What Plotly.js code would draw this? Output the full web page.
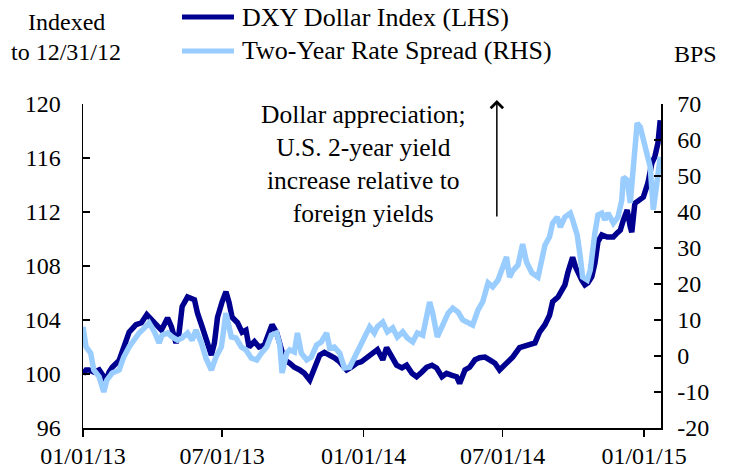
<!DOCTYPE html>
<html>
<head>
<meta charset="utf-8">
<script src="https://cdn.plot.ly/plotly-3.0.1.min.js"></script>
<style>
  html, body { margin: 0; padding: 0; background: #fff; }
  #chart { width: 734px; height: 473px; }
</style>
</head>
<body>
<div id="chart"></div>
<script>
// ---------- DATA ----------
const dxyName = "DXY Dollar Index (LHS)";
const spreadName = "Two-Year Rate Spread (RHS)";

const dxyDates = [
  "2013-01-01","2013-01-05","2013-01-09","2013-01-15","2013-01-22","2013-01-27","2013-01-31","2013-02-04","2013-02-08","2013-02-17",
  "2013-02-26","2013-03-02","2013-03-11","2013-03-18","2013-03-25","2013-03-31","2013-04-06","2013-04-13","2013-04-21","2013-04-26",
  "2013-05-02","2013-05-06","2013-05-10","2013-05-17","2013-05-26","2013-05-30","2013-06-05","2013-06-12","2013-06-17","2013-06-21",
  "2013-06-25","2013-07-01","2013-07-06","2013-07-10","2013-07-14","2013-07-21","2013-07-27","2013-08-01","2013-08-05","2013-08-12",
  "2013-08-18","2013-08-25","2013-08-31","2013-09-04","2013-09-10","2013-09-16","2013-09-20","2013-09-27","2013-10-03","2013-10-10",
  "2013-10-16","2013-10-23","2013-10-29","2013-11-05","2013-11-11","2013-11-18","2013-11-24","2013-12-01","2013-12-10","2013-12-16",
  "2013-12-23","2013-12-29","2014-01-05","2014-01-13","2014-01-19","2014-01-26","2014-01-31","2014-02-07","2014-02-13","2014-02-20",
  "2014-02-26","2014-03-05","2014-03-11","2014-03-18","2014-03-24","2014-03-31","2014-04-06","2014-04-13","2014-04-19","2014-04-26",
  "2014-05-02","2014-05-06","2014-05-13","2014-05-19","2014-05-26","2014-06-01","2014-06-08","2014-06-14","2014-06-21","2014-06-27",
  "2014-07-04","2014-07-14","2014-07-23","2014-08-01","2014-08-12","2014-08-18","2014-08-25","2014-08-31","2014-09-04","2014-09-11",
  "2014-09-16","2014-09-20","2014-09-24","2014-09-30","2014-10-04","2014-10-07","2014-10-12","2014-10-16","2014-10-20","2014-10-25",
  "2014-10-29","2014-11-02","2014-11-07","2014-11-14","2014-11-22","2014-11-27","2014-12-01","2014-12-05","2014-12-10","2014-12-14",
  "2014-12-16","2014-12-20","2014-12-27","2014-12-31","2015-01-06","2015-01-11","2015-01-15","2015-01-19","2015-01-22"
];
const dxyValues = [
  100.0,100.3,100.3,100.15,100.3,99.85,99.55,100.15,100.5,101.0,
  102.3,103.1,103.65,103.8,104.4,104.0,103.65,103.25,104.15,103.5,
  102.3,103.05,105.0,105.7,105.5,104.5,103.5,102.3,101.4,102.3,
  104.2,105.35,106.1,105.3,104.2,103.8,103.1,103.25,102.0,102.4,
  102.0,102.15,103.25,103.65,103.05,102.0,101.05,100.8,100.5,100.3,
  100.05,99.55,100.5,101.4,101.6,101.4,101.2,100.9,100.3,100.5,
  100.8,100.9,101.25,101.55,101.8,101.05,101.95,101.25,100.65,100.45,
  100.65,100.05,99.8,100.15,100.5,100.65,100.45,99.8,100.05,99.9,
  99.8,99.3,100.3,100.5,101.05,101.2,101.25,101.05,100.8,100.3,
  100.65,101.25,101.95,102.15,102.3,103.1,103.65,104.35,105.35,105.7,
  106.2,106.6,107.55,108.65,107.9,107.5,106.95,106.6,106.75,107.2,
  108.2,109.8,110.3,110.15,110.15,110.45,110.65,111.4,112.15,110.9,
  110.5,112.65,112.9,113.1,114.15,115.6,116.1,117.1,118.8
];

const spreadDates = [
  "2013-01-01","2013-01-05","2013-01-11","2013-01-15","2013-01-22","2013-01-28","2013-02-01","2013-02-08","2013-02-17","2013-02-23",
  "2013-03-02","2013-03-08","2013-03-15","2013-03-22","2013-03-28","2013-04-04","2013-04-10","2013-04-14","2013-04-21","2013-04-27",
  "2013-05-04","2013-05-10","2013-05-17","2013-05-23","2013-05-28","2013-06-04","2013-06-10","2013-06-17","2013-06-23","2013-06-30",
  "2013-07-06","2013-07-13","2013-07-19","2013-07-26","2013-08-01","2013-08-08","2013-08-15","2013-08-21","2013-08-28","2013-09-03",
  "2013-09-10","2013-09-14","2013-09-17","2013-09-23","2013-09-27","2013-10-03","2013-10-07","2013-10-12","2013-10-19","2013-10-25",
  "2013-11-01","2013-11-07","2013-11-14","2013-11-18","2013-11-24","2013-12-01","2013-12-07","2013-12-14","2013-12-23","2013-12-29",
  "2014-01-05","2014-01-09","2014-01-15","2014-01-19","2014-01-26","2014-02-01","2014-02-08","2014-02-14","2014-02-21","2014-02-27",
  "2014-03-06","2014-03-12","2014-03-19","2014-03-24","2014-03-28","2014-04-01","2014-04-07","2014-04-14","2014-04-21","2014-04-27",
  "2014-05-04","2014-05-10","2014-05-17","2014-05-23","2014-05-30","2014-06-05","2014-06-12","2014-06-18","2014-06-25","2014-07-01",
  "2014-07-06","2014-07-10","2014-07-14","2014-07-21","2014-07-27","2014-08-01","2014-08-08","2014-08-16","2014-08-21","2014-08-25",
  "2014-08-31","2014-09-04","2014-09-10","2014-09-14","2014-09-20","2014-09-27","2014-09-30","2014-10-06","2014-10-10","2014-10-13",
  "2014-10-19","2014-10-23","2014-10-29","2014-11-02","2014-11-07","2014-11-11","2014-11-15","2014-11-22","2014-11-28","2014-12-03",
  "2014-12-05","2014-12-10","2014-12-14","2014-12-18","2014-12-23","2014-12-27","2014-12-31","2015-01-05","2015-01-09","2015-01-13",
  "2015-01-18","2015-01-22"
];
const spreadValues = [
  8.1,2.5,0.8,-3.9,-5.8,-10.0,-6.7,-4.7,-3.9,-0.3,
  2.5,4.4,6.4,7.8,9.2,6.7,3.6,5.8,6.4,5.3,
  4.4,5.0,6.4,4.4,7.2,3.6,-0.6,-3.9,-0.3,2.5,
  11.9,5.3,5.0,2.5,1.7,-0.6,-1.1,0.8,2.5,5.8,
  6.4,3.1,-4.7,0.8,1.7,1.1,6.4,0.8,-1.1,-0.3,
  3.1,3.9,6.4,2.2,2.5,0.8,-3.3,-3.1,0.8,3.1,
  6.4,8.1,6.4,8.1,9.4,6.7,7.8,5.3,6.7,5.0,
  3.9,6.4,5.8,10.8,15.0,11.9,5.3,8.6,11.9,13.3,
  12.2,10.0,9.4,8.6,12.8,15.0,20.3,19.2,21.1,24.7,
  27.5,21.9,23.6,25.3,31.1,26.1,23.1,21.9,27.5,30.8,
  33.1,36.9,38.6,35.8,38.6,39.7,37.8,33.6,27.5,21.9,
  21.1,23.9,34.2,39.2,39.7,37.8,39.7,36.9,38.6,43.3,
  49.7,48.9,42.5,52.5,64.7,63.6,60.0,55.3,52.5,40.6,
  50.8,55.3
];

const xTickVals = ["2013-01-01","2013-07-01","2014-01-01","2014-07-01","2015-01-01"];
const xTickText = ["01/01/13","07/01/13","01/01/14","07/01/14","01/01/15"];
const leftTicks = [96,100,104,108,112,116,120];
const rightTicks = [-20,-10,0,10,20,30,40,50,60,70];

const annotationLines = ["Dollar appreciation;","U.S. 2-year yield","increase relative to","foreign yields"];

// ---------- STYLE ----------
const FONT = "Liberation Serif";
const DARK = "#000090";
const LIGHT = "#99CCFF";

const traces = [
  {
    x: dxyDates, y: dxyValues, name: dxyName, type: "scatter", mode: "lines",
    line: {color: DARK, width: 5.5}, yaxis: "y", xaxis: "x"
  },
  {
    x: spreadDates, y: spreadValues, name: spreadName, type: "scatter", mode: "lines",
    line: {color: LIGHT, width: 5.5}, yaxis: "y2", xaxis: "x"
  }
];

const txt = (size) => ({family: FONT, size: size, color: "#000"});

const layout = {
  width: 734, height: 473,
  margin: {l: 83, r: 73, t: 104, b: 45, pad: 0, autoexpand: false},
  paper_bgcolor: "#ffffff", plot_bgcolor: "#ffffff",
  font: txt(24),
  showlegend: false,
  xaxis: {
    type: "date",
    range: ["2013-01-01", "2015-01-23"],
    tickvals: xTickVals, ticktext: xTickText,
    ticks: "outside", ticklen: 7, tickwidth: 1.5, tickcolor: "#000",
    showline: true, linecolor: "#000", linewidth: 1.5,
    showgrid: false, zeroline: false,
    tickfont: txt(24),
    ticklabelstandoff: -1
  },
  yaxis: {
    range: [96, 120], tickvals: leftTicks, ticktext: leftTicks.map(String),
    ticks: "inside", ticklen: 7, tickwidth: 1.5, tickcolor: "#000",
    showline: true, linecolor: "#000", linewidth: 1.5,
    showgrid: false, zeroline: false,
    tickfont: txt(24),
    ticklabelstandoff: 16
  },
  yaxis2: {
    range: [-20, 70], tickvals: rightTicks, ticktext: rightTicks.map(String),
    overlaying: "y", side: "right",
    ticks: "inside", ticklen: 7, tickwidth: 1.5, tickcolor: "#000",
    showline: true, linecolor: "#000", linewidth: 1.5,
    showgrid: false, zeroline: false,
    tickfont: txt(24),
    ticklabelstandoff: 10
  },
  shapes: [
    // legend line samples
    {type: "line", xref: "paper", yref: "paper", x0: 0.1713, x1: 0.2612, y0: 1.2685, y1: 1.2685,
     line: {color: DARK, width: 5}},
    {type: "line", xref: "paper", yref: "paper", x0: 0.1713, x1: 0.2612, y0: 1.1636, y1: 1.1636,
     line: {color: LIGHT, width: 5}}
  ],
  annotations: [
    // legend texts
    {xref: "paper", yref: "paper", x: 0.2716, y: 1.2685, xanchor: "left", yanchor: "middle",
     text: dxyName, showarrow: false, font: txt(26)},
    {xref: "paper", yref: "paper", x: 0.2716, y: 1.1636, xanchor: "left", yanchor: "middle",
     text: spreadName, showarrow: false, font: txt(26)},
    // axis unit labels
    {xref: "paper", yref: "paper", x: -0.0294, y: 1.253, xanchor: "center", yanchor: "middle",
     text: "Indexed", showarrow: false, font: txt(24)},
    {xref: "paper", yref: "paper", x: -0.0294, y: 1.160, xanchor: "center", yanchor: "middle",
     text: "to 12/31/12", showarrow: false, font: txt(24)},
    {xref: "paper", yref: "paper", x: 1.059, y: 1.154, xanchor: "center", yanchor: "middle",
     text: "BPS", showarrow: false, font: txt(24)},
    // callout
    {xref: "paper", yref: "paper", x: 0.486, y: 0.815, xanchor: "center", yanchor: "middle",
     text: annotationLines.join("<br>"), showarrow: false, align: "center",
     font: txt(25.5)},
    {xref: "paper", yref: "paper", x: 0.716, y: 1.012, ax: 0.716, ay: 0.648,
     axref: "paper", ayref: "paper", text: "", showarrow: true,
     arrowhead: 4, arrowsize: 1.6, arrowwidth: 1.5, arrowcolor: "#000"}
  ]
};

Plotly.newPlot("chart", traces, layout, {displayModeBar: false, staticPlot: true});
</script>
</body>
</html>
